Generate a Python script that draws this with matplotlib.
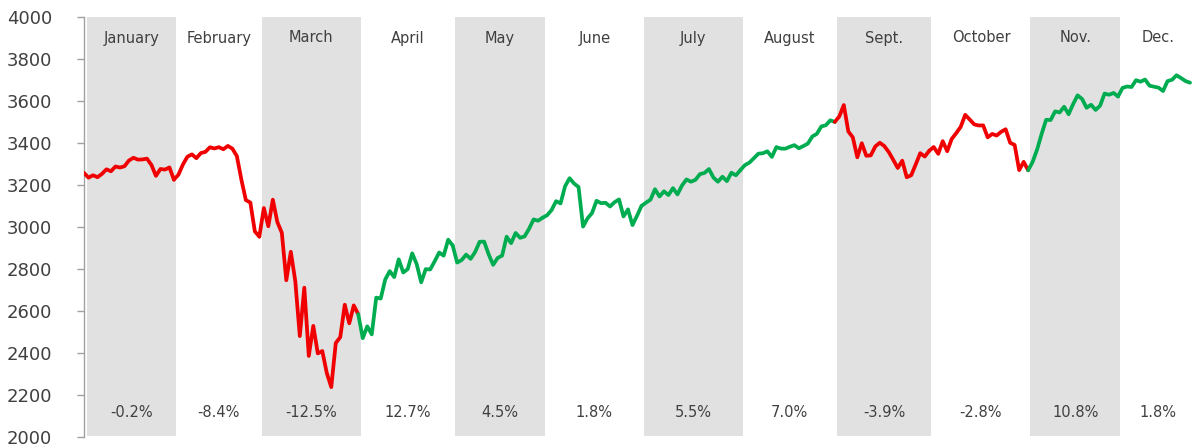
import matplotlib
matplotlib.use("Agg")
import matplotlib.pyplot as plt
import numpy as np

# S&P 500 daily closes, 2020 (through Dec 22); base = last close of 2019
base_close = 3230.78

jan = [3257.85, 3234.85, 3246.28, 3237.18, 3253.05, 3274.70, 3265.35, 3288.13, 3283.15, 3289.29,
       3316.81, 3329.62, 3320.79, 3321.75, 3325.54, 3295.47, 3243.63, 3276.24, 3273.40, 3283.66,
       3225.52]
feb = [3248.92, 3297.59, 3334.69, 3345.78, 3327.71, 3352.09, 3357.75, 3379.45, 3373.94, 3380.16,
       3370.29, 3386.15, 3373.23, 3337.75, 3225.89, 3128.21, 3116.39, 2978.76, 2954.22]
mar = [3090.23, 3003.37, 3130.12, 3023.94, 2972.37, 2746.56, 2882.23, 2741.38, 2480.64, 2711.02,
       2386.13, 2529.19, 2398.10, 2409.39, 2304.92, 2237.40, 2447.33, 2475.56, 2630.07, 2541.47,
       2626.65, 2584.59]
apr = [2470.50, 2526.90, 2488.65, 2663.68, 2659.41, 2749.98, 2789.82, 2761.63, 2846.06, 2783.36,
       2799.55, 2874.56, 2823.16, 2736.56, 2799.31, 2797.80, 2836.74, 2878.48, 2863.39, 2939.51,
       2912.43]
may = [2830.71, 2842.74, 2868.44, 2848.42, 2881.19, 2929.80, 2930.32, 2870.12, 2820.00, 2852.50,
       2863.70, 2953.91, 2922.94, 2971.61, 2948.51, 2955.45, 2991.77, 3036.13, 3029.73, 3044.31]
jun = [3055.73, 3080.82, 3122.87, 3112.35, 3193.93, 3232.39, 3207.18, 3190.14, 3002.10, 3041.31,
       3066.59, 3124.74, 3113.49, 3115.34, 3097.74, 3117.86, 3131.29, 3050.33, 3083.76, 3009.05,
       3053.24, 3100.29]
jul = [3115.86, 3130.01, 3179.72, 3145.32, 3169.94, 3152.05, 3185.04, 3155.22, 3197.52, 3226.56,
       3215.57, 3224.73, 3251.84, 3257.30, 3276.02, 3235.66, 3215.63, 3239.41, 3218.44, 3258.44,
       3246.22, 3271.12]
aug = [3294.61, 3306.51, 3327.77, 3349.16, 3351.28, 3360.47, 3333.69, 3380.35, 3373.43, 3372.85,
       3381.99, 3389.78, 3374.85, 3385.51, 3397.16, 3431.28, 3443.62, 3478.73, 3484.55, 3508.01,
       3500.31]
sep = [3526.65, 3580.84, 3455.06, 3426.96, 3331.84, 3398.96, 3339.19, 3340.97, 3383.54, 3401.20,
       3385.49, 3357.01, 3319.47, 3281.06, 3315.57, 3236.92, 3246.59, 3298.46, 3351.60, 3335.47,
       3363.00]
oct_ = [3380.80, 3348.42, 3408.60, 3360.97, 3419.44, 3446.83, 3477.14, 3534.22, 3511.93, 3488.67,
        3483.34, 3483.81, 3426.92, 3443.12, 3435.56, 3453.49, 3465.39, 3400.97, 3390.68, 3271.03,
        3310.11, 3269.96]
nov = [3310.24, 3369.16, 3443.44, 3510.45, 3509.44, 3550.50, 3545.53, 3572.66, 3537.01, 3585.15,
       3626.91, 3609.53, 3567.79, 3581.87, 3557.54, 3577.59, 3635.41, 3629.65, 3638.35, 3621.63]
dec = [3662.45, 3669.01, 3666.72, 3699.12, 3691.96, 3702.25, 3672.82, 3668.10, 3663.46, 3647.49,
       3694.62, 3701.17, 3722.48, 3709.41, 3694.92, 3687.26]

month_labels = ["January", "February", "March", "April", "May", "June",
                "July", "August", "Sept.", "October", "Nov.", "Dec."]
months = [jan, feb, mar, apr, may, jun, jul, aug, sep, oct_, nov, dec]

y_ticks = list(range(2000, 4001, 200))

RED = "#F00000"
GREEN = "#00AC50"
BAND = "#E1E1E1"
TEXT = "#404040"
FONT = "DejaVu Sans"

W, H = 1197, 448
fig = plt.figure(figsize=(W / 100, H / 100), dpi=100)
ax = fig.add_axes([84 / W, 11 / H, 1111 / W, 420 / H])

series = np.concatenate([np.array(m) for m in months])
n_total = len(series)
ax.set_xlim(0, (n_total - 1) * 1111 / 1106)
ax.set_ylim(2000, 4000)
x_right = ax.get_xlim()[1]

start = 0
prev_close = base_close
for k, m in enumerate(months):
    n = len(m)
    end = start + n - 1
    left_edge = 0.7 if k == 0 else start - 0.5
    right_edge = x_right if k == len(months) - 1 else end + 0.5
    if k % 2 == 0:
        ax.axvspan(left_edge, right_edge, ymin=0.003, ymax=1.0, color=BAND, lw=0, zorder=0)

    ret = m[-1] / prev_close - 1
    color = GREEN if ret >= 0 else RED
    seg_start = start if k == 0 else start - 1
    xs = np.arange(seg_start, end + 1)
    ys = series[seg_start:end + 1]
    ax.plot(xs, ys, color=color, lw=2.7, solid_joinstyle="round",
            solid_capstyle="round", zorder=3)

    cx = (left_edge + right_edge) / 2
    ax.text(cx, 3900, month_labels[k], ha="center", va="center",
            fontsize=10.5, color=TEXT, family=FONT, zorder=4)
    ax.text(cx, 2119, f"{ret * 100:.1f}%", ha="center", va="center",
            fontsize=10.5, color=TEXT, family=FONT, zorder=4)

    prev_close = m[-1]
    start = end + 1

ax.set_yticks(y_ticks)
ax.set_yticklabels([str(v) for v in y_ticks], fontsize=13, color=TEXT, family=FONT)
ax.set_xticks([])
for s in ("top", "right", "bottom"):
    ax.spines[s].set_visible(False)
ax.spines["left"].set_color("#A0A0A0")
ax.spines["left"].set_linewidth(1.0)
ax.tick_params(axis="y", length=5, width=1.0, color="#A0A0A0", pad=18)

fig.savefig("out.png", dpi=100)
